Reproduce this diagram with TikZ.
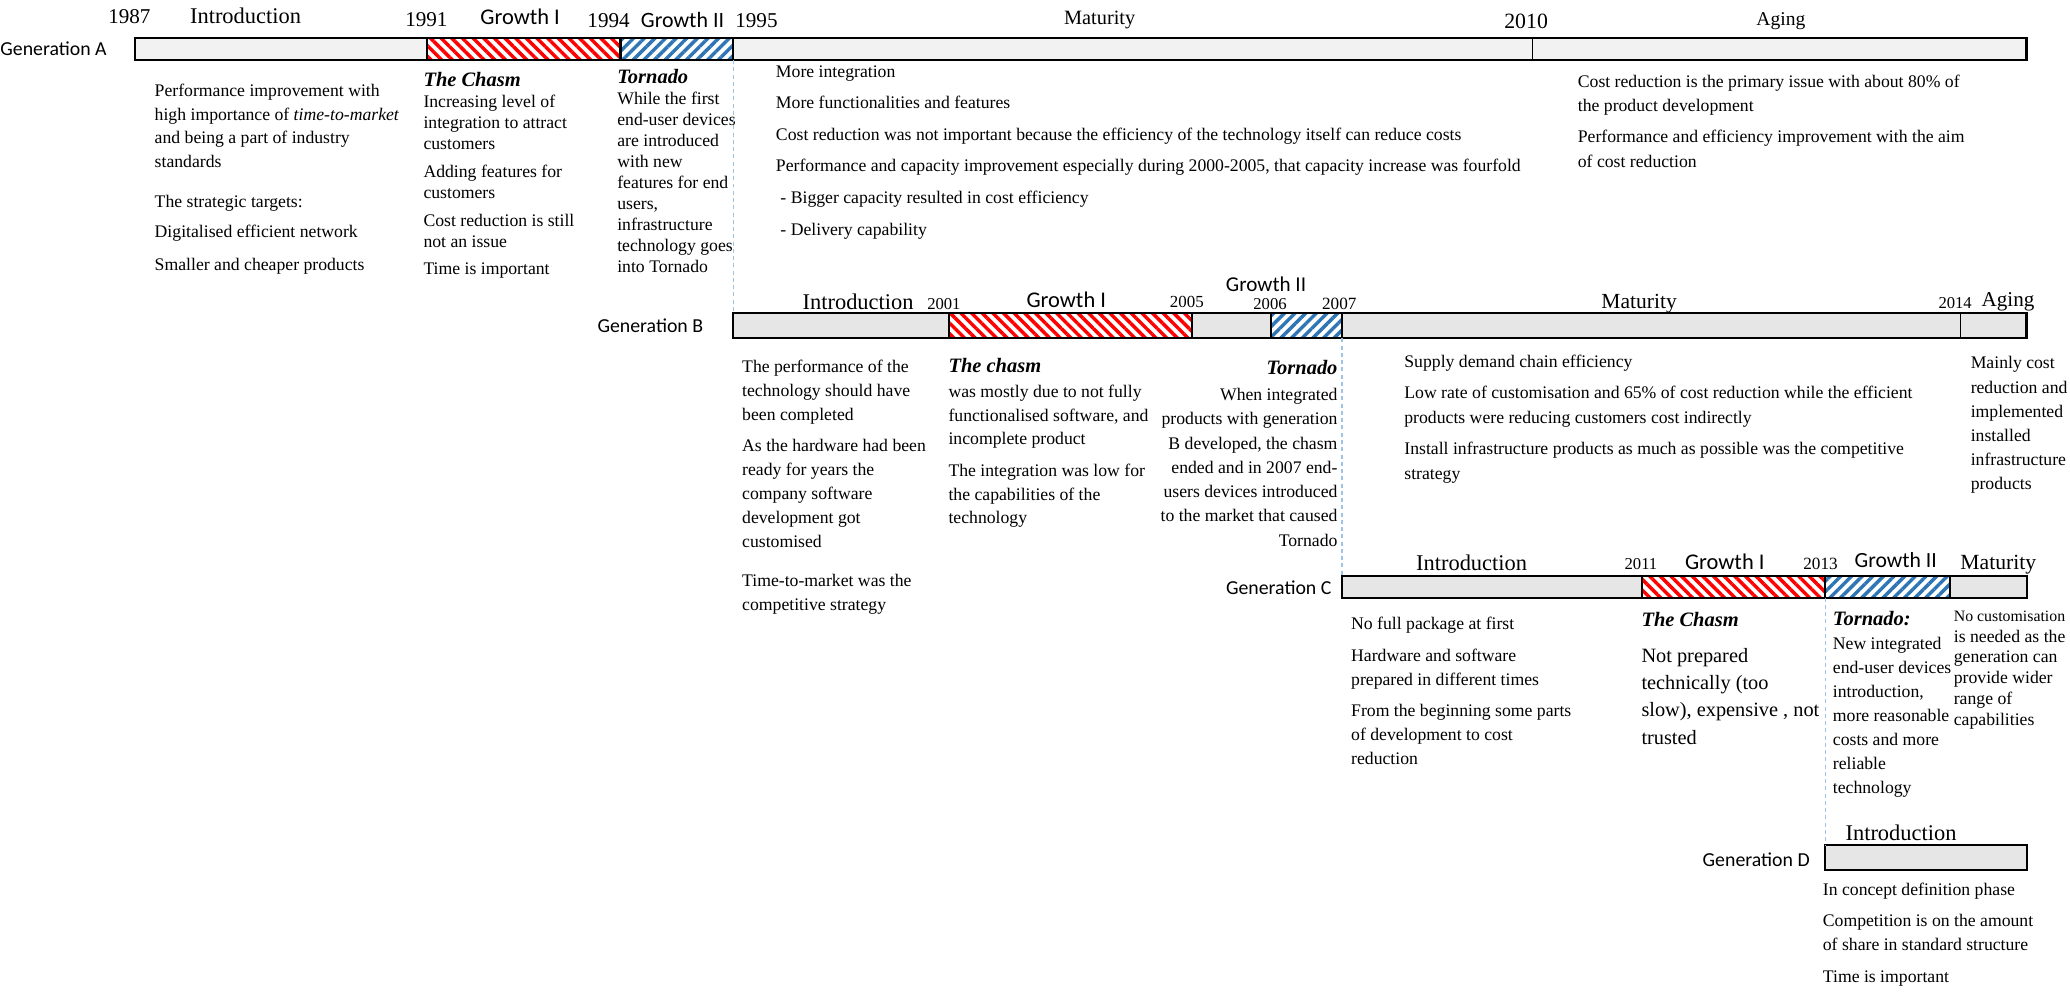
\documentclass[tikz,border=0pt]{standalone}
\usepackage{fontspec}
\setmainfont{Liberation Serif}
\setsansfont{Carlito}
\usetikzlibrary{patterns.meta}
\definecolor{barA}{HTML}{F2F2F2}
\definecolor{barB}{HTML}{E7E6E6}
\definecolor{tornadoblue}{HTML}{2E75B6}
\definecolor{linkblue}{HTML}{9DC3E6}

\begin{document}
\begin{tikzpicture}[x=1pt,y=-1pt,inner sep=0pt,
    gen/.style={font=\sffamily\fontsize{15}{18}\selectfont,anchor=base east},
    phase/.style={font=\fontsize{17}{18}\selectfont,anchor=base},
    growth/.style={font=\sffamily\fontsize{17}{18}\selectfont,anchor=base},
    year/.style={font=\fontsize{16}{18}\selectfont,anchor=base},
    smallyear/.style={font=\fontsize{12.6}{14}\selectfont,anchor=base},
    info/.style={anchor=north west,align=left,font=\fontsize{13.4}{#1}\selectfont},
    info/.default=18,
    head/.style={font=\fontsize{15.5}{18}\selectfont\bfseries\itshape},
    bar/.style={draw=black,line width=1.6pt},
    chasm/.style={pattern={Lines[angle=-45,distance=5.7pt,line width=2.6pt]},pattern color=red},
    tornado/.style={pattern={Lines[angle=45,distance=5.7pt,line width=2.6pt]},pattern color=tornadoblue},
    link/.style={draw=linkblue,line width=0.9pt,dash pattern=on 3pt off 2.5pt}]
  \useasboundingbox (0,0) rectangle (1568,750.7);

  % Generation A
  \filldraw[bar,fill=barA] (102,28.5) rectangle (1535,45.5);
  \fill[white] (323.7,28.5) rectangle (555.5,45.5);
  \fill[chasm] (323.7,28.5) rectangle (470,45.5);
  \fill[tornado] (470,28.5) rectangle (555.5,45.5);
  \draw[bar] (102,28.5) rectangle (1535,45.5)
             (323.7,28.5) rectangle (470,45.5) (470,28.5) rectangle (555.5,45.5);
  \draw[line width=0.8pt] (1161,28.5) -- (1161,45.5);
  \coordinate (a3) at (555.5,45.5);

  \node[gen] (genA) at (81,42.2) {Generation A};
  \node[year] (yA1) at (98,17.7) {1987};
  \node[phase] (pA1) at (186,17.7) {Introduction};
  \node[year] (yA2) at (323,19.8) {1991};
  \node[growth] (pA2) at (394,18.2) {Growth I};
  \node[year] (yA3) at (461,21.1) {1994};
  \node[growth,font=\sffamily\fontsize{16.6}{18}\selectfont] (pA3) at (517,21) {Growth II};
  \node[year] (yA4) at (573,21.1) {1995};
  \node[phase,font=\fontsize{15.4}{18}\selectfont] (pA4) at (833,18.3) {Maturity};
  \node[year,font=\fontsize{16.5}{18}\selectfont] (yA5) at (1156,21.3) {2010};
  \node[phase,font=\fontsize{14.8}{18}\selectfont] (pA5) at (1349,19.4) {Aging};

  \node[info] (tA1) at (117,60.1) {\strut Performance improvement with\\
    high importance of \textit{time-to-market}\\ and being a part of industry\\
    standards\\[12pt] The strategic targets:\\[5pt]
    Digitalised efficient network\\[7pt] Smaller and cheaper products};
  \node[info=16] (tA2) at (320.6,53.9) {\strut{\fontsize{15.5}{16}\selectfont\bfseries\itshape The Chasm}\\
    Increasing level of\\ integration to attract\\ customers\\[5pt]
    Adding features for\\ customers\\[5pt] Cost reduction is still\\
    not an issue\\[5pt] Time is important};
  \node[info=15.9] (tA3) at (467.4,52) {\strut{\fontsize{15.5}{16}\selectfont\bfseries\itshape Tornado}\\
    While the first\\ end-user devices\\ are introduced\\ with new\\
    features for end\\ users,\\ infrastructure\\ technology goes\\ into Tornado};
  \node[info=23.9] (tA4) at (587.6,41.6) {\strut More integration\\
    More functionalities and features\\
    Cost reduction was not important because the efficiency of the technology itself can reduce costs\\
    Performance and capacity improvement especially during 2000-2005, that capacity increase was fourfold\\
    \hspace{3.4pt}- Bigger capacity resulted in cost efficiency\\
    \hspace{3.4pt}- Delivery capability};
  \node[info=18.4] (tA5) at (1195,53) {\strut Cost reduction is the primary issue with about 80\% of\\
    the product development\\[5.3pt]
    Performance and efficiency improvement with the aim\\ of cost reduction};

  % Generation B
  \filldraw[bar,fill=barB] (555.5,237) rectangle (1535,256.3);
  \fill[white] (719,237) rectangle (903,256.3) (963,237) rectangle (1016.5,256.3);
  \fill[chasm] (719,237) rectangle (903,256.3);
  \fill[tornado] (963,237) rectangle (1016.5,256.3);
  \draw[bar] (555.5,237) rectangle (1535,256.3)
             (719,237) rectangle (903,256.3) (963,237) rectangle (1016.5,256.3);
  \draw[line width=0.8pt] (1484.7,237) -- (1484.7,256.3);
  \coordinate (b0) at (555.5,237);
  \coordinate (b3) at (1016.5,256.3);

  \node[gen] (genB) at (532.8,252.2) {Generation B};
  \node[phase] (pB1) at (650,234.3) {Introduction};
  \node[smallyear] (yB1) at (715,234.5) {2001};
  \node[growth] (pB2) at (807.7,233.2) {Growth I};
  \node[smallyear,font=\fontsize{12.8}{14}\selectfont] (yB2) at (899,232.8) {2005};
  \node[growth,font=\sffamily\fontsize{16}{18}\selectfont] (pB3) at (959,220.5) {Growth II};
  \node[smallyear] (yB3) at (962,234.2) {2006};
  \node[smallyear,font=\fontsize{13}{14}\selectfont] (yB4) at (1014.5,234.4) {2007};
  \node[phase,font=\fontsize{16.3}{18}\selectfont] (pB4) at (1241.6,233.3) {Maturity};
  \node[smallyear] (yB5) at (1481,234) {2014};
  \node[phase,font=\fontsize{16}{18}\selectfont] (pB5) at (1521,232) {Aging};

  \node[info=18.1] (tB1) at (562,269.5) {\strut The performance of the\\
    technology should have\\ been completed\\[5.4pt]
    As the hardware had been\\ ready for years the\\ company software\\
    development got\\ customised\\[11.7pt]
    Time-to-market was the\\ competitive strategy};
  \node[info] (tB2) at (718.3,269.1) {\strut{\fontsize{15.5}{16}\selectfont\bfseries\itshape The chasm}\\[1pt]
    was mostly due to not fully\\ functionalised software, and\\
    incomplete product\\[6pt]
    The integration was low for\\ the capabilities of the\\ technology};
  \node[info=18.4,anchor=north east,align=right] (tB3) at (1013.3,270.6)
    {\strut{\fontsize{15.5}{16}\selectfont\bfseries\itshape Tornado}\\[1.3pt]
    When integrated\\ products with generation\\ B developed, the chasm\\
    ended and in 2007 end-\\ users devices introduced\\
    to the market that caused\\ Tornado};
  \node[info=18.7] (tB4) at (1063.6,265.4) {\strut Supply demand chain efficiency\\[4.8pt]
    Low rate of customisation and 65\% of cost reduction while the efficient\\
    products were reducing customers cost indirectly\\[4.8pt]
    Install infrastructure products as much as possible was the competitive\\
    strategy};
  \node[info=18.3] (tB5) at (1492.6,266.4) {\strut Mainly cost\\ reduction and\\
    implemented\\ installed\\ infrastructure\\ products};

  % Generation C
  \filldraw[bar,fill=barB] (1016.5,436.3) rectangle (1535.4,452.7);
  \fill[white] (1243.6,436.3) rectangle (1477.3,452.7);
  \fill[chasm] (1243.6,436.3) rectangle (1382.5,452.7);
  \fill[tornado] (1382.5,436.3) rectangle (1477.3,452.7);
  \draw[bar] (1016.5,436.3) rectangle (1535.4,452.7)
             (1243.6,436.3) rectangle (1382.5,452.7) (1382.5,436.3) rectangle (1477.3,452.7);
  \coordinate (c0) at (1016.5,436.3);
  \coordinate (c3) at (1382.5,452.7);

  \node[gen] (genC) at (1008.7,450) {Generation C};
  \node[phase] (pC1) at (1114.7,432.5) {Introduction};
  \node[smallyear] (yC1) at (1243,431) {2011};
  \node[growth] (pC2) at (1306.5,431.6) {Growth I};
  \node[smallyear,font=\fontsize{13}{14}\selectfont] (yC2) at (1379,431.1) {2013};
  \node[growth,font=\sffamily\fontsize{16.4}{18}\selectfont] (pC3) at (1436,430) {Growth II};
  \node[phase,font=\fontsize{16.4}{18}\selectfont] (pC4) at (1513.7,431.1) {Maturity};

  \node[info=18.2] (tC1) at (1023.3,464.2) {\strut No full package at first\\[5.6pt]
    Hardware and software\\ prepared in different times\\[5.6pt]
    From the beginning some parts\\ of development to cost\\ reduction};
  \node[info=20.7,font=\fontsize{15.4}{20.7}\selectfont] (tC2) at (1243.2,459.6)
    {\strut{\fontsize{15.5}{16}\selectfont\bfseries\itshape The Chasm}\\[6.5pt]
    Not prepared\\ technically (too\\ slow), expensive , not\\ trusted};
  \node[info=18.2] (tC3) at (1388.2,460.7) {\strut{\fontsize{15.5}{16}\selectfont\bfseries\itshape Tornado:}\\
    New integrated\\ end-user devices\\ introduction,\\ more reasonable\\
    costs and more\\ reliable\\ technology};
  \node[info=15.8] (tC4) at (1479.8,459.3) {\strut{\fontsize{12}{15.8}\selectfont No customisation}\\ is needed as the\\
    generation can\\ provide wider\\ range of\\ capabilities};

  % Generation D
  \filldraw[bar,fill=barB] (1382.5,640) rectangle (1535.5,659);
  \coordinate (d0) at (1382.5,640);
  \node[gen] (genD) at (1371,656.2) {Generation D};
  \node[phase] (pD1) at (1440,637) {Introduction};
  \node[info=18.4] (tD1) at (1380.6,665.1) {\strut In concept definition phase\\[5pt]
    Competition is on the amount\\ of share in standard structure\\[5.6pt]
    Time is important};

  \draw[link] (a3) -- (b0);
  \draw[link] (b3) -- (c0);
  \draw[link] (c3) -- (d0);
\end{tikzpicture}
\end{document}
